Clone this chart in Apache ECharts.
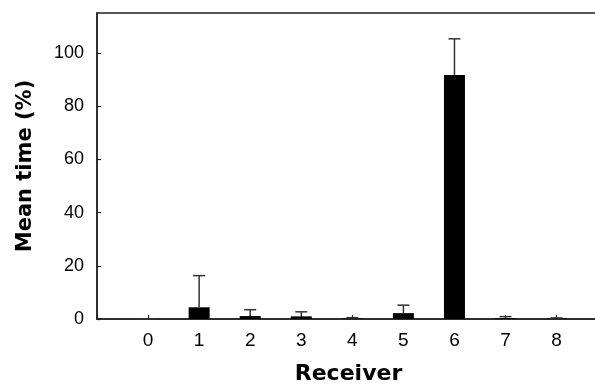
<!DOCTYPE html>
<html>
<head>
<meta charset="utf-8">
<script src="https://cdn.jsdelivr.net/npm/echarts@6/dist/echarts.min.js"></script>
<style>
  html, body { margin: 0; padding: 0; background: #fff; }
  #chart { width: 595px; height: 392px; }
</style>
</head>
<body>
<div id="chart"></div>
<script>
// Receiver positions and mean time spent at each (%), with SD
const receivers = [0, 1, 2, 3, 4, 5, 6, 7, 8];
const meanTime = [0, 4.4, 1.1, 1.0, 0.2, 2.2, 91.7, 0.3, 0.2];
const errorUp = [0, 11.9, 2.4, 1.7, 0.3, 3.0, 13.6, 0.6, 0.2];
const yTicks = [0, 20, 40, 60, 80, 100];

const FONT = 'Liberation Sans, Arial, sans-serif';
const TITLE_FONT = 'DejaVu Sans, Liberation Sans, sans-serif';
const INK = '#222';

const barData = receivers.map((r, i) => [r, meanTime[i]]);
const errData = receivers.map((r, i) => [r, meanTime[i], meanTime[i] + errorUp[i]]);

const chart = echarts.init(document.getElementById('chart'), null, { renderer: 'canvas' });

chart.setOption({
  animation: false,
  grid: {
    left: 97, right: -5, top: 13, bottom: 73,
    containLabel: false,
    outerBoundsMode: 'none',
    show: true, borderColor: INK, borderWidth: 1.5, backgroundColor: 'transparent'
  },
  xAxis: {
    type: 'value',
    min: -1, max: 8.85, interval: 1,
    name: 'Receiver',
    nameLocation: 'middle',
    nameGap: 44,
    nameTextStyle: { fontFamily: TITLE_FONT, fontSize: 22, fontWeight: 'bold', color: '#000' },
    splitLine: { show: false },
    axisLine: { show: true, onZero: false, lineStyle: { color: INK, width: 1.5 } },
    axisTick: { show: true, inside: true, length: 4, lineStyle: { color: INK, width: 1.2 } },
    axisLabel: {
      fontFamily: FONT, fontSize: 19, color: '#000', margin: 12,
      showMaxLabel: false,
      formatter: v => (receivers.indexOf(v) >= 0 ? String(v) : '')
    }
  },
  yAxis: {
    type: 'value',
    min: 0, max: 115, interval: 20,
    name: 'Mean time (%)',
    nameLocation: 'middle',
    nameGap: 61,
    nameTextStyle: { fontFamily: TITLE_FONT, fontSize: 21, fontWeight: 'bold', color: '#000' },
    splitLine: { show: false },
    axisLine: { show: true, onZero: false, lineStyle: { color: INK, width: 1.5 } },
    axisTick: { show: true, inside: true, length: 4, lineStyle: { color: INK, width: 1.2 } },
    axisLabel: {
      fontFamily: FONT, fontSize: 18, color: '#000', margin: 13,
      showMaxLabel: false,
      formatter: v => (yTicks.indexOf(v) >= 0 ? String(v) : '')
    }
  },
  series: [
    {
      type: 'bar',
      data: barData,
      barWidth: 21,
      itemStyle: { color: '#000' },
      z: 2
    },
    {
      type: 'custom',
      data: errData,
      z: 3,
      renderItem: function (params, api) {
        const x = api.value(0);
        const base = api.coord([x, api.value(1)]);
        const top = api.coord([x, api.value(2)]);
        const half = 6;
        return {
          type: 'group',
          children: [
            { type: 'line', shape: { x1: base[0], y1: base[1], x2: top[0], y2: top[1] },
              style: { stroke: '#333', lineWidth: 1.5 } },
            { type: 'line', shape: { x1: top[0] - half, y1: top[1], x2: top[0] + half, y2: top[1] },
              style: { stroke: '#333', lineWidth: 1.5 } }
          ]
        };
      }
    }
  ]
});
</script>
</body>
</html>
